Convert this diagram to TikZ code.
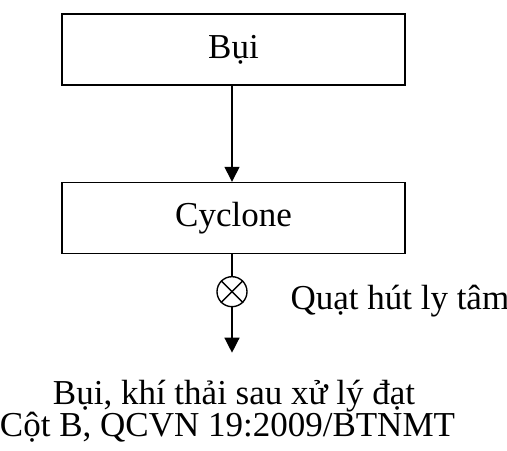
\documentclass[tikz,border=0pt]{standalone}
\usepackage{fontspec}
\setmainfont{Liberation Serif}
\usetikzlibrary{arrows.meta}

\tikzset{
  khoi/.style={draw, line width=0.55pt, minimum width=137.2pt, minimum height=28.4pt, inner sep=0pt},
  quat/.style={draw, circle, line width=0.55pt, minimum size=12pt, inner sep=0pt},
  chu/.style={inner sep=0pt},
  muiten/.style={line width=0.55pt, -{Triangle[length=6pt,width=6pt]}}
}

\begin{document}
\begin{tikzpicture}[x=0.4pt,y=0.4pt,font=\fontsize{14}{16}\selectfont]
   \useasboundingbox (0,0) rectangle (507,451);
   % cac khoi
   \node[khoi] (bui) at (233.5,401.5) {Bụi};
   \node[khoi] (cyclone) at (233.5,233) {Cyclone};
   \draw[muiten] (bui.south -| 232,0) -- (cyclone.north -| 232,0);

   % quat hut
   \node[quat] (quat) at (232,159.3) {};
   \draw[line width=0.55pt] (quat.north west) -- (quat.south east);
   \draw[line width=0.55pt] (quat.north east) -- (quat.south west);
   \node[chu, anchor=base west] (nhan) at (290,141) {Quạt hút ly tâm};
   \draw[line width=0.55pt] (cyclone.south -| quat.north) -- (quat.north);
   \coordinate (ra) at (232,98.3);
   \draw[muiten] (quat.south) -- (ra);

   % dau ra
   \node[chu, anchor=base] (ra1) at (234,46) {Bụi, khí thải sau xử lý đạt};
   \node[chu, anchor=base] (ra2) at (227.5,14) {Cột B, QCVN 19:2009/BTNMT};
 \end{tikzpicture}
\end{document}
